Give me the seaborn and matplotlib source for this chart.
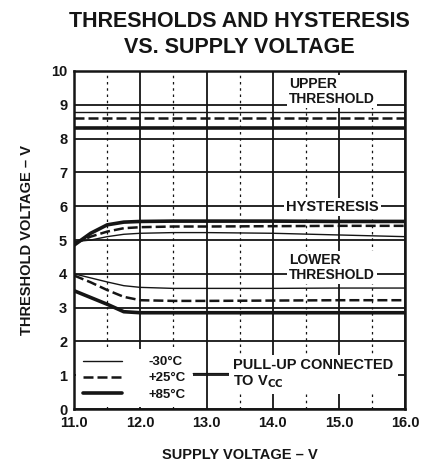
"""
Thresholds and hysteresis vs. supply voltage (datasheet curve redraw).
"""
import matplotlib
matplotlib.use("Agg")
import matplotlib.pyplot as plt
import numpy as np
import seaborn as sns

# Supply voltage sample points (V)
supply_v = [11.0, 11.25, 11.5, 11.75, 12.0, 12.5, 13.0, 14.0, 15.0, 16.0]

# Upper threshold (V)
upper_m30 = [8.80, 8.80, 8.80, 8.80, 8.80, 8.80, 8.80, 8.80, 8.80, 8.80]
upper_p25 = [8.60, 8.60, 8.60, 8.60, 8.60, 8.60, 8.60, 8.60, 8.60, 8.60]
upper_p85 = [8.30, 8.30, 8.30, 8.30, 8.30, 8.30, 8.30, 8.30, 8.30, 8.30]

# Hysteresis (V)
hyst_m30 = [4.95, 5.00, 5.10, 5.17, 5.20, 5.22, 5.22, 5.20, 5.15, 5.10]
hyst_p25 = [4.90, 5.10, 5.25, 5.35, 5.38, 5.40, 5.40, 5.41, 5.42, 5.42]
hyst_p85 = [4.85, 5.20, 5.45, 5.53, 5.55, 5.56, 5.56, 5.56, 5.55, 5.55]

# Lower threshold (V)
lower_m30 = [4.00, 3.88, 3.76, 3.65, 3.60, 3.57, 3.57, 3.57, 3.58, 3.58]
lower_p25 = [3.95, 3.75, 3.52, 3.32, 3.22, 3.20, 3.20, 3.21, 3.22, 3.22]
lower_p85 = [3.50, 3.30, 3.10, 2.88, 2.85, 2.85, 2.85, 2.85, 2.85, 2.85]

temps = ["-30°C", "+25°C", "+85°C"]
x_ticks = [11.0, 12.0, 13.0, 14.0, 15.0, 16.0]
x_tick_labels = ["11.0", "12.0", "13.0", "14.0", "15.0", "16.0"]
y_ticks = [0, 1, 2, 3, 4, 5, 6, 7, 8, 9, 10]

INK = "#151515"
STYLES = {
    "-30°C": dict(linewidth=1.0, linestyle="-"),
    "+25°C": dict(linewidth=1.8, linestyle=(0, (4, 1.6))),
    "+85°C": dict(linewidth=2.6, linestyle="-"),
}

sns.set_theme(style="white")
plt.rcParams["font.family"] = ["Liberation Sans", "DejaVu Sans"]
plt.rcParams["font.weight"] = "bold"

fig = plt.figure(figsize=(4.26, 4.67), dpi=100)
ax = fig.add_axes([0.174, 0.124, 0.777, 0.724])

groups = [
    (upper_m30, upper_p25, upper_p85),
    (hyst_m30, hyst_p25, hyst_p85),
    (lower_m30, lower_p25, lower_p85),
]
for gi, series in enumerate(groups):
    for temp, yvals in zip(temps, series):
        sns.lineplot(x=supply_v, y=yvals, ax=ax, color=INK,
                     label=temp if gi == 0 else None, zorder=2,
                     **STYLES[temp])

ax.set_xlim(11.0, 16.0)
ax.set_ylim(0, 10)
ax.set_xticks(x_ticks)
ax.set_xticklabels(x_tick_labels)
ax.set_yticks(y_ticks)
ax.set_xticks(np.arange(11.5, 16.0, 1.0), minor=True)

# Grid: solid at whole volts, dotted at half volts
ax.set_axisbelow(True)
ax.grid(which="major", color=INK, linewidth=1.3)
ax.grid(which="minor", axis="x", color=INK, linewidth=0.9, linestyle=(0, (2, 3)))
for spine in ax.spines.values():
    spine.set_linewidth(1.8)
    spine.set_color(INK)

ax.tick_params(which="both", length=0, labelsize=10.5, colors=INK, pad=5)
for lbl in ax.get_xticklabels() + ax.get_yticklabels():
    lbl.set_fontweight("bold")

ax.set_xlabel("SUPPLY VOLTAGE – V", fontsize=10.5, fontweight="bold", color=INK, labelpad=13)
ax.set_ylabel("THRESHOLD VOLTAGE – V", fontsize=10.5, fontweight="bold", color=INK, labelpad=12)
ax.set_title("THRESHOLDS AND HYSTERESIS\nVS. SUPPLY VOLTAGE", fontsize=15.5,
             fontweight="bold", color=INK, linespacing=1.3, pad=13)

# In-plot labels (white boxes break the grid like the original)
box = dict(boxstyle="square,pad=0.15", facecolor="white", edgecolor="none")
ax.text(14.25, 9.4, "UPPER\nTHRESHOLD", fontsize=10, fontweight="bold", color=INK,
        ha="left", va="center", linespacing=1.1, bbox=box, zorder=4)
ax.text(14.2, 5.97, "HYSTERESIS", fontsize=10.5, fontweight="bold", color=INK,
        ha="left", va="center", bbox=box, zorder=4)
ax.text(14.25, 4.18, "LOWER\nTHRESHOLD", fontsize=10, fontweight="bold", color=INK,
        ha="left", va="center", linespacing=1.1, bbox=box, zorder=4)

leg = ax.legend(loc="lower left", bbox_to_anchor=(0.0, 0.0), fontsize=9.5,
                frameon=True, facecolor="white", edgecolor="none", framealpha=1,
                fancybox=False, handlelength=3.0, handletextpad=2.0,
                labelspacing=0.3, borderpad=0.5, borderaxespad=0.15)
for t in leg.get_texts():
    t.set_fontweight("bold")
    t.set_color(INK)

ax.annotate("PULL-UP CONNECTED\nTO V$_{\\mathbf{CC}}$", xy=(12.8, 1.05), xytext=(13.4, 1.05),
            fontsize=10.5, fontweight="bold", color=INK, ha="left", va="center",
            linespacing=1.1, bbox=dict(boxstyle="square,pad=0.3", facecolor="white", edgecolor="none"),
            arrowprops=dict(arrowstyle="-", color=INK, linewidth=1.0, shrinkA=0, shrinkB=0),
            zorder=6)

fig.savefig("out.png", dpi=100)
